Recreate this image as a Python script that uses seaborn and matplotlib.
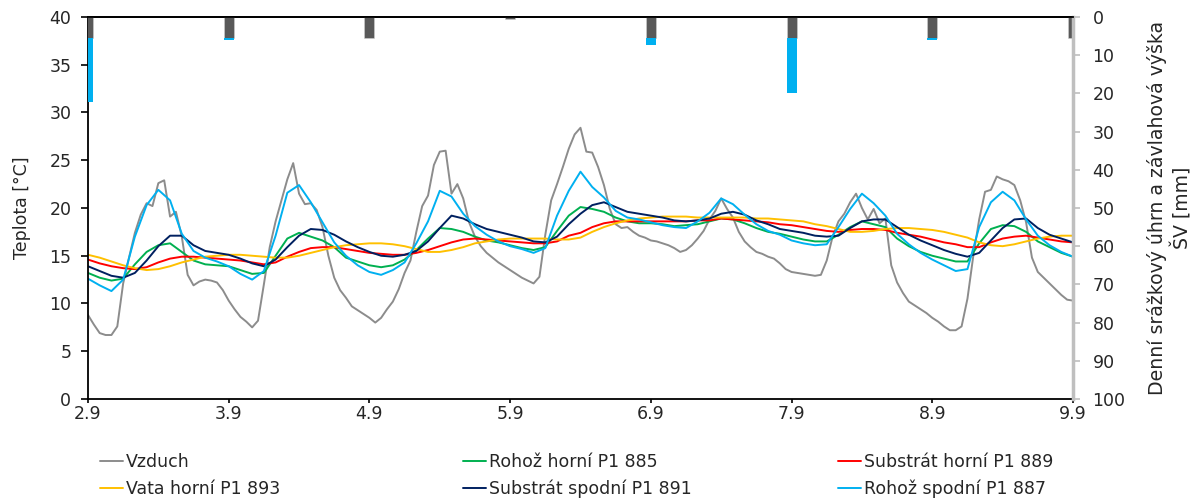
import numpy as np
import matplotlib
matplotlib.use('Agg')
import matplotlib.pyplot as plt
import seaborn as sns

# popisky dnu na ose x (den.mesic)
day_labels = ['2.9', '3.9', '4.9', '5.9', '6.9', '7.9', '8.9', '9.9']

# teplota vzduchu - hodinove hodnoty od 2.9 0:00
vzduch = [
    8.8, 7.8, 6.9, 6.7, 6.7, 7.6, 12.1, 14.8, 17.4, 19.3,
    20.5, 20.2, 22.6, 22.9, 19.1, 19.6, 17.0, 13.0, 11.9, 12.3,
    12.5, 12.4, 12.2, 11.4, 10.3, 9.4, 8.6, 8.1, 7.5, 8.2,
    12.0, 15.9, 18.6, 20.8, 23.0, 24.7, 21.5, 20.4, 20.5, 19.8,
    18.0, 15.0, 12.7, 11.4, 10.6, 9.7, 9.3, 8.9, 8.5, 8.0,
    8.5, 9.4, 10.2, 11.5, 13.2, 14.5, 17.5, 20.2, 21.3, 24.5,
    25.9, 26.0, 21.5, 22.5, 21.0, 18.5, 17.0, 16.0, 15.3, 14.8,
    14.3, 13.9, 13.5, 13.1, 12.7, 12.4, 12.1, 12.8, 17.2, 20.8,
    22.5, 24.3, 26.2, 27.7, 28.4, 25.9, 25.8, 24.3, 22.4, 19.9,
    18.3, 17.9, 18.0, 17.5, 17.1, 16.9, 16.6, 16.5, 16.3, 16.1,
    15.8, 15.4, 15.6, 16.1, 16.8, 17.6, 18.8, 19.7, 21.0, 19.9,
    19.0, 17.5, 16.5, 15.9, 15.4, 15.2, 14.9, 14.7, 14.2, 13.6,
    13.3, 13.2, 13.1, 13.0, 12.9, 13.0, 14.5, 17.0, 18.6, 19.4,
    20.6, 21.5, 20.0, 18.8, 19.9, 18.4, 18.9, 14.0, 12.2, 11.1,
    10.2, 9.8, 9.4, 9.0, 8.5, 8.1, 7.6, 7.2, 7.2, 7.6,
    10.5, 15.0, 18.8, 21.7, 21.9, 23.3, 23.0, 22.8, 22.4, 20.8,
    18.5, 14.8, 13.3, 12.7, 12.1, 11.5, 10.9, 10.4, 10.3,
]

# cidla v souvrstvi - hodnoty po 2 hodinach
rohoz_horni = [
    13.2, 12.7, 12.4, 12.6, 14.1, 15.4, 16.1, 16.3, 15.4, 14.5,
    14.1, 14.0, 13.9, 13.5, 13.1, 13.2, 15.0, 16.8, 17.4, 17.0,
    16.6, 15.9, 14.8, 14.4, 14.0, 13.8, 14.0, 14.6, 15.6, 16.8,
    17.9, 17.8, 17.5, 17.0, 16.6, 16.4, 16.1, 15.8, 15.6, 15.9,
    17.6, 19.2, 20.1, 19.9, 19.6, 19.0, 18.6, 18.4, 18.4, 18.3,
    18.1, 18.2, 18.3, 18.6, 18.9, 18.8, 18.4, 17.9, 17.5, 17.3,
    17.0, 16.7, 16.5, 16.5, 17.2, 18.0, 18.6, 18.3, 18.0, 16.8,
    16.0, 15.4, 15.0, 14.7, 14.4, 14.4, 16.3, 17.8, 18.2, 18.1,
    17.5, 16.5, 15.9, 15.3, 14.9,
]
substrat_horni = [
    14.6, 14.2, 13.9, 13.7, 13.6, 13.8, 14.3, 14.7, 14.9, 14.9,
    14.8, 14.7, 14.6, 14.5, 14.3, 14.1, 14.3, 14.9, 15.4, 15.8,
    15.9, 15.9, 15.7, 15.5, 15.3, 15.2, 15.1, 15.1, 15.3, 15.6,
    16.0, 16.4, 16.7, 16.8, 16.7, 16.6, 16.5, 16.4, 16.3, 16.3,
    16.5, 17.1, 17.4, 18.0, 18.4, 18.6, 18.6, 18.6, 18.6, 18.6,
    18.6, 18.6, 18.7, 18.7, 18.9, 18.8, 18.7, 18.6, 18.5, 18.3,
    18.2, 18.0, 17.8, 17.6, 17.5, 17.7, 17.8, 17.8, 17.7, 17.4,
    17.2, 17.0, 16.7, 16.4, 16.2, 15.9, 15.9, 16.4, 16.8, 17.0,
    17.1, 16.9, 16.7, 16.5, 16.4,
]
vata_horni = [
    15.1, 14.8, 14.4, 14.0, 13.7, 13.5, 13.6, 13.9, 14.3, 14.6,
    14.9, 15.0, 15.1, 15.1, 15.0, 14.9, 14.8, 14.8, 15.0, 15.3,
    15.6, 15.9, 16.1, 16.2, 16.3, 16.3, 16.2, 16.0, 15.7, 15.4,
    15.4, 15.6, 15.9, 16.3, 16.5, 16.7, 16.8, 16.8, 16.8, 16.8,
    16.7, 16.7, 16.9, 17.5, 18.0, 18.4, 18.7, 18.9, 19.0, 19.1,
    19.1, 19.1, 19.0, 19.0, 19.0, 19.0, 19.0, 18.9, 18.9, 18.8,
    18.7, 18.6, 18.3, 18.1, 17.8, 17.5, 17.5, 17.6, 17.8, 17.9,
    17.9, 17.8, 17.7, 17.5, 17.2, 16.9, 16.4, 16.1, 16.0, 16.2,
    16.5, 16.8, 17.0, 17.1, 17.1,
]
substrat_spodni = [
    13.9, 13.4, 12.9, 12.7, 13.2, 14.5, 16.0, 17.1, 17.1, 16.1,
    15.5, 15.3, 15.1, 14.7, 14.2, 13.9, 14.6, 15.9, 17.1, 17.8,
    17.7, 17.2, 16.5, 15.9, 15.4, 15.0, 14.9, 15.1, 15.5, 16.5,
    17.9, 19.2, 18.9, 18.3, 17.8, 17.5, 17.2, 16.9, 16.5, 16.4,
    17.0, 18.3, 19.4, 20.3, 20.6, 20.1, 19.6, 19.4, 19.2, 19.0,
    18.7, 18.6, 18.7, 18.9, 19.4, 19.6, 19.3, 18.7, 18.3, 17.8,
    17.6, 17.4, 17.1, 17.0, 17.1, 17.9, 18.6, 18.8, 18.8, 18.0,
    17.2, 16.6, 16.1, 15.6, 15.2, 14.9, 15.3, 16.6, 17.9, 18.8,
    18.9, 17.9, 17.2, 16.8, 16.4,
]
rohoz_spodni = [
    12.6, 11.9, 11.3, 12.5, 17.0, 20.3, 21.9, 20.8, 17.3, 15.5,
    14.8, 14.4, 13.9, 13.1, 12.5, 13.4, 17.1, 21.6, 22.4, 20.6,
    18.5, 16.4, 15.0, 14.0, 13.3, 13.0, 13.5, 14.3, 16.3, 18.6,
    21.8, 21.2, 19.4, 18.1, 17.2, 16.5, 16.0, 15.7, 15.3, 15.8,
    19.2, 21.8, 23.8, 22.2, 21.1, 19.7, 19.0, 18.8, 18.5, 18.2,
    18.0, 17.9, 18.6, 19.5, 21.0, 20.4, 19.3, 18.3, 17.6, 17.2,
    16.6, 16.3, 16.1, 16.2, 18.0, 19.9, 21.5, 20.5, 19.2, 17.3,
    16.2, 15.3, 14.6, 14.0, 13.4, 13.6, 18.0, 20.6, 21.7, 20.8,
    18.8, 17.1, 16.1, 15.4, 14.9,
]

# denni zavlaha a srazky [mm]
zavlaha = [5.6, 5.6, 5.6, 0.6, 5.6, 5.6, 5.6, 5.6]
srazky = [16.6, 0.3, 0.0, 0.0, 1.8, 14.3, 0.3, 0.0]

serie = [
    ('Vzduch', vzduch, 1, '#8C8C8C'),
    ('Rohož horní P1 885', rohoz_horni, 2, '#00B050'),
    ('Substrát horní P1 889', substrat_horni, 2, '#FF0000'),
    ('Vata horní P1 893', vata_horni, 2, '#FFC000'),
    ('Substrát spodní P1 891', substrat_spodni, 2, '#002060'),
    ('Rohož spodní P1 887', rohoz_spodni, 2, '#00B0F0'),
]

sns.set_style('white')
plt.rcParams['font.family'] = ['DejaVu Sans']
fs = 12.5

fig = plt.figure(figsize=(11.97, 5.01), dpi=100)
ax = fig.add_axes([0.0735, 0.2036, 0.8229, 0.7625])

handles = {}
for name, vals, step, col in serie:
    t = np.arange(len(vals)) * step / 24.0
    sns.lineplot(x=t, y=np.array(vals), color=col, lw=1.4, ax=ax,
                 estimator=None, sort=False, legend=False, label=name)
    handles[name] = ax.get_lines()[-1]
if ax.get_legend() is not None:
    ax.get_legend().remove()

ax.set_xlim(0, 7)
ax.set_ylim(0, 40)
ax.set_xticks(np.arange(len(day_labels)))
ax.set_xticklabels(day_labels)
ax.set_yticks(np.arange(0, 41, 5))
ax.set_ylabel('Teplota [°C]', fontsize=fs)
ax.yaxis.set_label_coords(-0.058, 0.5)
ax.tick_params(axis='y', labelsize=fs, direction='out', length=5,
               width=1.2, color='black', left=True, pad=7)
ax.tick_params(axis='x', labelsize=fs, direction='out', length=3,
               width=1.2, color='black', bottom=True, pad=1)
for s in ['left', 'bottom', 'top']:
    ax.spines[s].set_color('black')
    ax.spines[s].set_linewidth(1.3)
ax.spines['right'].set_visible(False)

# sekundarni osa se sloupci (obracena)
ax2 = ax.twinx()
days = np.arange(len(day_labels))
ax2.bar(days, zavlaha, width=0.071, color='#595959', edgecolor='#D0D0D0', lw=0.4)
ax2.bar(days, srazky, width=0.071, bottom=zavlaha, color='#00B0F0', lw=0)
ax2.set_ylim(100, 0)
ax2.set_yticks(np.arange(0, 101, 10))
ax2.tick_params(axis='y', labelsize=fs, direction='out', length=5,
                width=1.2, color='#BFBFBF', right=True, pad=9)
ax2.spines['right'].set_color('#BFBFBF')
ax2.spines['right'].set_linewidth(2.5)
ax2.spines['top'].set_color('black')
ax2.spines['top'].set_linewidth(1.3)
for s in ['left', 'bottom']:
    ax2.spines[s].set_visible(False)
ax2.set_ylabel('Denní srážkový úhrn a závlahová výška\nŠV [mm]',
               fontsize=13.6, linespacing=1.3)
ax2.yaxis.set_label_coords(1.075, 0.5)

# legenda ve trech sloupcich
cols = [
    (['Vzduch', 'Vata horní P1 893'], 100),
    (['Rohož horní P1 885', 'Substrát spodní P1 891'], 463),
    (['Substrát horní P1 889', 'Rohož spodní P1 887'], 838),
]
for names, xpx in cols:
    fig.legend([handles[n] for n in names], names, loc='upper left',
               bbox_to_anchor=(xpx / 1197, 1 - 453 / 501), frameon=False,
               fontsize=fs, borderpad=0, borderaxespad=0, handlelength=1.3,
               handletextpad=0.2, labelspacing=0.5)

fig.savefig('out.png', dpi=100)
